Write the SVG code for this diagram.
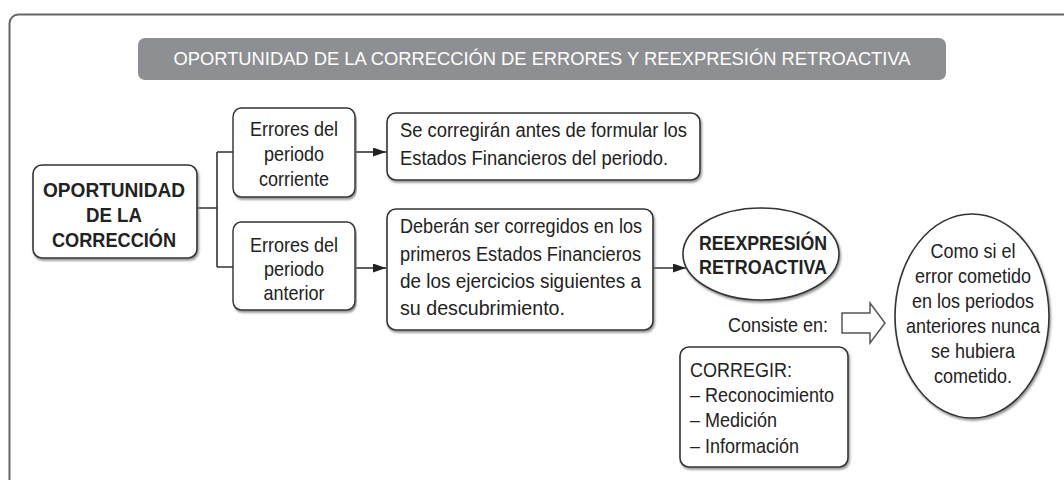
<svg xmlns="http://www.w3.org/2000/svg" width="1064" height="480" viewBox="0 0 1064 480">
<style>
text{font-family:"Liberation Sans",Arial,sans-serif;fill:#222;font-size:20px}
.b{font-weight:bold;font-size:20.5px}
.c{text-anchor:middle}
.box{fill:#fff;stroke:#333;stroke-width:1.6;filter:url(#sh)}
.ln{fill:none;stroke:#333;stroke-width:1.6}
.title{fill:#fff;font-size:18px}
</style>
<defs>
<filter id="sh" x="-10%" y="-10%" width="130%" height="130%">
<feDropShadow dx="1.2" dy="2" stdDeviation="0.8" flood-color="#777" flood-opacity="0.8"/>
</filter>
<marker id="ah" markerUnits="userSpaceOnUse" markerWidth="14" markerHeight="10" refX="13" refY="4.5" orient="auto">
<path d="M0,0 L13,4.5 L0,9 z" fill="#222"/>
</marker>
</defs>
<rect x="9.5" y="14.5" width="1200" height="600" rx="9" fill="none" stroke="#666" stroke-width="2"/>
<g id="title">
<rect x="138" y="38" width="808" height="42" rx="7" fill="#8e8f92"/>
<text class="title c" x="542" y="65" textLength="737" lengthAdjust="spacingAndGlyphs">OPORTUNIDAD DE LA CORRECCIÓN DE ERRORES Y REEXPRESIÓN RETROACTIVA</text>
</g>
<g id="connectors">
<path class="ln" d="M197,208 H217 M217,152 V267 M217,152 H233 M217,267 H233"/>
<line class="ln" x1="355" y1="152" x2="386" y2="152" marker-end="url(#ah)"/>
<line class="ln" x1="355" y1="268" x2="386" y2="268" marker-end="url(#ah)"/>
<line class="ln" x1="653" y1="268" x2="686" y2="268" marker-end="url(#ah)"/>
<polygon points="842,313 870,313 870,303 885,323 870,343 870,333 842,333" fill="#fff" stroke="#555" stroke-width="1.5"/>
</g>
<g id="main">
<rect class="box" x="33" y="165" width="164" height="93" rx="9"/>
<text class="b c" x="114" y="197" textLength="142" lengthAdjust="spacingAndGlyphs">OPORTUNIDAD</text>
<text class="b c" x="114" y="222" textLength="56" lengthAdjust="spacingAndGlyphs">DE LA</text>
<text class="b c" x="114" y="247" textLength="124" lengthAdjust="spacingAndGlyphs">CORRECCIÓN</text>
</g>
<g id="corriente" transform="scale(0.9 1)">
<rect class="box" x="258.89" y="108" width="135.56" height="89" rx="9"/>
<text class="c" x="326.67" y="136">Errores del</text>
<text class="c" x="326.67" y="161">periodo</text>
<text class="c" x="326.67" y="186">corriente</text>
</g>
<g id="anterior" transform="scale(0.9 1)">
<rect class="box" x="258.89" y="222" width="135.56" height="88" rx="9"/>
<text class="c" x="326.67" y="252">Errores del</text>
<text class="c" x="326.67" y="276">periodo</text>
<text class="c" x="326.67" y="300">anterior</text>
</g>
<g id="corregiran">
<rect class="box" x="387" y="113" width="313" height="67" rx="9"/>
<text x="400" y="137" textLength="287" lengthAdjust="spacingAndGlyphs">Se corregirán antes de formular los</text>
<text x="400" y="165" textLength="268" lengthAdjust="spacingAndGlyphs">Estados Financieros del periodo.</text>
</g>
<g id="deberan">
<rect class="box" x="387" y="209" width="266" height="121" rx="9"/>
<text x="400" y="233" textLength="242" lengthAdjust="spacingAndGlyphs">Deberán ser corregidos en los</text>
<text x="400" y="261" textLength="241" lengthAdjust="spacingAndGlyphs">primeros Estados Financieros</text>
<text x="400" y="288" textLength="241" lengthAdjust="spacingAndGlyphs">de los ejercicios siguientes a</text>
<text x="400" y="315" textLength="165" lengthAdjust="spacingAndGlyphs">su descubrimiento.</text>
</g>
<g id="reexpresion">
<ellipse class="box" cx="761" cy="254" rx="78" ry="46"/>
<text class="b c" x="763" y="250" textLength="128" lengthAdjust="spacingAndGlyphs">REEXPRESIÓN</text>
<text class="b c" x="763" y="274" textLength="128" lengthAdjust="spacingAndGlyphs">RETROACTIVA</text>
</g>
<g id="consiste" transform="scale(0.9 1)">
<text x="920" y="332" text-anchor="end">Consiste en:</text>
</g>
<g id="corregir">
<rect class="box" x="680" y="347" width="168" height="120" rx="9"/>
<g transform="scale(0.9 1)">
<text x="766.67" y="377">CORREGIR:</text>
<text x="766.67" y="402">– Reconocimiento</text>
<text x="766.67" y="427">– Medición</text>
<text x="766.67" y="453">– Información</text>
</g>
</g>
<g id="como">
<ellipse class="box" cx="972" cy="316" rx="77" ry="102"/>
<g transform="scale(0.9 1)">
<text class="c" x="1081.11" y="258">Como si el</text>
<text class="c" x="1081.11" y="283">error cometido</text>
<text class="c" x="1081.11" y="308">en los periodos</text>
<text class="c" x="1081.11" y="333">anteriores nunca</text>
<text class="c" x="1081.11" y="358">se hubiera</text>
<text class="c" x="1081.11" y="383">cometido.</text>
</g>
</g>
</svg>
